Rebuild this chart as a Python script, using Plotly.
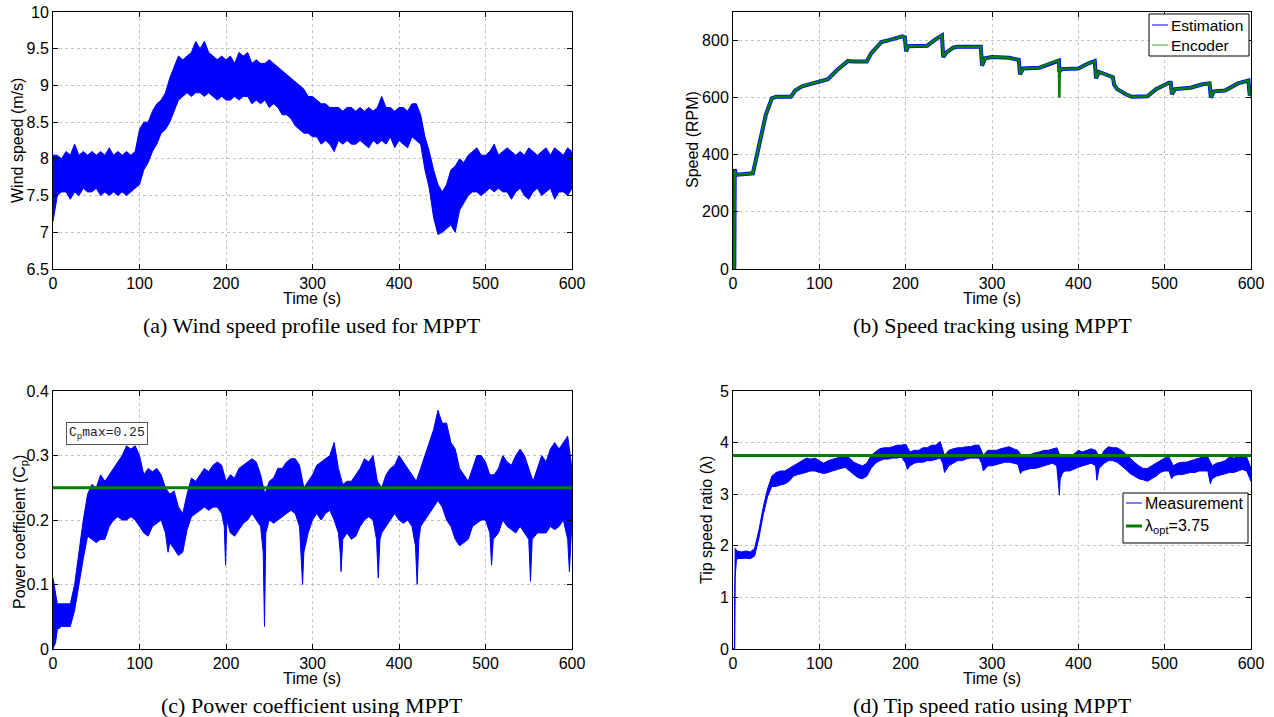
import plotly.graph_objects as go

# ---------------- data ----------------
# (a) wind speed envelope, sampled every 5 s
wind_t = list(range(0, 605, 5))
wind_hi = [8.05, 8.05, 8.0, 8.1, 8.05, 8.2, 8.05, 8.1, 8.05, 8.1, 8.05, 8.1, 8.05, 8.15, 8.05, 8.1, 8.05, 8.1, 8.05, 8.1,
           8.4, 8.5, 8.5, 8.65, 8.75, 8.8, 8.9, 9.1, 9.25, 9.4, 9.35, 9.4, 9.45, 9.6, 9.5, 9.6, 9.45, 9.4, 9.35, 9.4,
           9.35, 9.4, 9.3, 9.45, 9.4, 9.45, 9.3, 9.35, 9.3, 9.3, 9.35, 9.3, 9.25, 9.2, 9.15, 9.1, 9.05, 9.0, 8.95, 8.85,
           8.85, 8.8, 8.75, 8.75, 8.7, 8.7, 8.7, 8.65, 8.7, 8.7, 8.65, 8.7, 8.65, 8.7, 8.65, 8.7, 8.85, 8.7, 8.7, 8.65,
           8.7, 8.7, 8.65, 8.75, 8.75, 8.6, 8.3, 8.1, 7.85, 7.65, 7.55, 7.65, 7.85, 7.9, 8.0, 7.95, 8.05, 8.1, 8.15, 8.05,
           8.05, 8.1, 8.2, 8.05, 8.1, 8.15, 8.1, 8.05, 8.1, 8.05, 8.15, 8.1, 8.05, 8.1, 8.15, 8.05, 8.15, 8.1, 8.05, 8.15,
           8.1]
wind_lo = [7.15, 7.5, 7.55, 7.55, 7.45, 7.55, 7.5, 7.6, 7.55, 7.55, 7.6, 7.5, 7.55, 7.5, 7.55, 7.5, 7.55, 7.5, 7.55, 7.6,
           7.65, 7.85, 7.95, 8.1, 8.2, 8.35, 8.4, 8.5, 8.65, 8.8, 8.85, 8.9, 8.85, 8.9, 8.9, 8.85, 8.9, 8.85, 8.8, 8.85,
           8.8, 8.8, 8.85, 8.8, 8.85, 8.85, 8.75, 8.8, 8.75, 8.8, 8.7, 8.75, 8.7, 8.6, 8.6, 8.55, 8.45, 8.4, 8.35, 8.35,
           8.3, 8.3, 8.2, 8.25, 8.2, 8.1, 8.25, 8.2, 8.25, 8.2, 8.2, 8.25, 8.2, 8.15, 8.25, 8.2, 8.25, 8.2, 8.3, 8.15,
           8.25, 8.2, 8.15, 8.3, 8.25, 8.2, 7.85, 7.6, 7.2, 6.97, 7.0, 7.05, 7.1, 7.0, 7.3, 7.4, 7.5, 7.55, 7.55, 7.5,
           7.55, 7.6, 7.55, 7.6, 7.55, 7.55, 7.45, 7.55, 7.6, 7.5, 7.45, 7.55, 7.6, 7.5, 7.55, 7.6, 7.45, 7.55, 7.55, 7.5,
           7.6]

# (b) rotor speed (RPM)
speed_t = [0, 1.5, 2, 3, 5, 10, 23, 30, 38, 45, 50, 67, 72, 80, 95, 105, 110, 120, 133, 140, 155, 160, 172, 185, 196,
           199, 200.5, 203, 225, 235, 242, 243.5, 247, 255, 260, 287, 288.5, 292, 300, 320, 331, 332.5, 336, 355, 375,
           377.5, 378, 378.5, 380, 400, 410, 419, 420.5, 424, 440, 441.5, 445, 455, 462, 480, 490, 505, 507, 508.5,
           512, 530, 545, 552, 553.5, 557, 570, 585, 597, 598.5, 600]
speed_est = [0, 0, 350, 335, 330, 332, 335, 430, 540, 598, 603, 603, 625, 640, 652, 662, 665, 695, 728, 727, 727, 755,
             795, 805, 815, 812, 762, 780, 782, 805, 818, 742, 758, 775, 778, 778, 712, 738, 742, 740, 732, 682, 702,
             705, 730, 730, 690, 695, 700, 702, 718, 728, 668, 690, 672, 645, 630, 612, 603, 605, 630, 652, 652, 612,
             630, 635, 648, 650, 600, 622, 625, 650, 660, 608, 615]
speed_enc = [0, 0, 345, 333, 330, 332, 335, 430, 540, 598, 603, 603, 625, 640, 652, 662, 665, 695, 728, 727, 727, 755,
             795, 805, 815, 812, 762, 780, 782, 805, 818, 742, 758, 775, 778, 778, 712, 738, 742, 740, 732, 682, 702,
             705, 730, 730, 600, 695, 700, 702, 718, 728, 668, 690, 672, 645, 630, 612, 603, 605, 630, 652, 652, 612,
             630, 635, 648, 650, 600, 622, 625, 650, 660, 608, 615]

# (c) power coefficient envelope
cp_hi_t = list(range(0, 605, 5))
cp_hi = [0.11, 0.07, 0.07, 0.07, 0.07, 0.1, 0.15, 0.2, 0.24, 0.255, 0.25, 0.27, 0.26, 0.27, 0.28, 0.29, 0.30, 0.315,
         0.31, 0.315, 0.3, 0.27, 0.28, 0.275, 0.28, 0.27, 0.25, 0.24, 0.245, 0.22, 0.21, 0.24, 0.265, 0.26, 0.27, 0.28,
         0.275, 0.285, 0.29, 0.285, 0.26, 0.27, 0.265, 0.28, 0.285, 0.29, 0.295, 0.29, 0.27, 0.24, 0.26, 0.265, 0.28,
         0.28, 0.29, 0.295, 0.295, 0.285, 0.25, 0.26, 0.27, 0.285, 0.29, 0.295, 0.3, 0.32, 0.28, 0.255, 0.26, 0.26,
         0.27, 0.28, 0.295, 0.29, 0.3, 0.26, 0.25, 0.27, 0.28, 0.285, 0.3, 0.29, 0.28, 0.27, 0.26, 0.28, 0.3, 0.32,
         0.34, 0.37, 0.35, 0.35, 0.32, 0.31, 0.28, 0.27, 0.26, 0.28, 0.3, 0.3, 0.29, 0.27, 0.27, 0.28, 0.3, 0.29,
         0.285, 0.3, 0.31, 0.3, 0.28, 0.26, 0.28, 0.3, 0.29, 0.31, 0.32, 0.31, 0.32, 0.33, 0.28]
cp_lo_t = [0, 3, 5, 10, 15, 20, 25, 30, 35, 40, 45, 50, 55, 60, 65, 70, 75, 80, 85, 90, 95, 100, 105, 110, 115, 120,
           125, 130, 133, 135, 140, 145, 150, 155, 160, 165, 170, 175, 180, 185, 190, 195, 198, 199.5, 201, 205, 210,
           215, 220, 225, 230, 235, 240, 243, 244.5, 246, 250, 255, 260, 265, 270, 275, 280, 285, 287, 288.5, 290,
           295, 300, 305, 310, 315, 320, 325, 330, 332, 333, 335, 340, 345, 350, 355, 360, 365, 370, 374, 376, 378,
           380, 385, 390, 395, 400, 405, 410, 415, 419, 421, 423, 425, 430, 435, 440, 445, 450, 455, 460, 465, 470,
           475, 480, 485, 490, 495, 500, 505, 507, 509, 515, 520, 525, 530, 535, 540, 545, 550, 552, 554, 560, 565,
           570, 575, 580, 585, 590, 595, 597, 600]
cp_lo = [0.0, 0.01, 0.03, 0.035, 0.035, 0.035, 0.06, 0.1, 0.14, 0.175, 0.17, 0.165, 0.17, 0.17, 0.19, 0.2, 0.205, 0.2,
         0.2, 0.205, 0.2, 0.19, 0.18, 0.175, 0.19, 0.195, 0.2, 0.18, 0.15, 0.165, 0.155, 0.145, 0.15, 0.185, 0.205,
         0.21, 0.215, 0.22, 0.215, 0.22, 0.22, 0.21, 0.19, 0.13, 0.2, 0.18, 0.175, 0.185, 0.195, 0.2, 0.21, 0.2, 0.19,
         0.15, 0.035, 0.18, 0.2, 0.195, 0.2, 0.205, 0.21, 0.215, 0.21, 0.19, 0.15, 0.1, 0.15, 0.18, 0.2, 0.21, 0.2,
         0.21, 0.215, 0.2, 0.18, 0.15, 0.12, 0.17, 0.18, 0.17, 0.175, 0.19, 0.2, 0.205, 0.2, 0.17, 0.11, 0.17, 0.18,
         0.19, 0.2, 0.21, 0.2, 0.195, 0.2, 0.19, 0.16, 0.1, 0.17, 0.19, 0.2, 0.21, 0.22, 0.23, 0.22, 0.2, 0.19, 0.17,
         0.16, 0.165, 0.17, 0.19, 0.195, 0.2, 0.2, 0.18, 0.13, 0.17, 0.18, 0.2, 0.19, 0.185, 0.18, 0.19, 0.18, 0.17,
         0.105, 0.17, 0.18, 0.18, 0.18, 0.19, 0.185, 0.19, 0.2, 0.17, 0.12, 0.2]
cp_max = 0.25

# (d) tip speed ratio envelope
tsr_hi_t = [0, 1.5, 2.5] + list(range(5, 605, 5))
tsr_hi = [0, 0, 1.95, 1.9, 1.88, 1.9, 1.88, 1.95, 2.3, 2.75, 3.1, 3.35, 3.42, 3.45, 3.45, 3.5, 3.55, 3.6, 3.65, 3.7,
          3.68, 3.7, 3.65, 3.6, 3.65, 3.68, 3.7, 3.72, 3.75, 3.7, 3.62, 3.58, 3.55, 3.6, 3.75, 3.82, 3.88, 3.9, 3.9,
          3.92, 3.95, 3.95, 3.97, 3.82, 3.85, 3.85, 3.9, 3.9, 3.95, 3.95, 4.02, 3.75, 3.85, 3.88, 3.9, 3.9, 3.92,
          3.92, 3.95, 3.95, 3.75, 3.85, 3.85, 3.85, 3.88, 3.9, 3.92, 3.88, 3.85, 3.72, 3.75, 3.78, 3.8, 3.82, 3.85,
          3.85, 3.88, 3.9, 3.7, 3.75, 3.75, 3.78, 3.85, 3.82, 3.85, 3.88, 3.85, 3.7, 3.85, 3.92, 3.9, 3.9, 3.85, 3.78,
          3.7, 3.62, 3.55, 3.5, 3.5, 3.55, 3.6, 3.65, 3.7, 3.72, 3.55, 3.6, 3.62, 3.62, 3.65, 3.68, 3.7, 3.72, 3.72,
          3.55, 3.6, 3.62, 3.65, 3.72, 3.7, 3.72, 3.75, 3.72, 3.5]
tsr_lo_t = [0, 2, 2.5, 4, 5, 10, 15, 20, 25, 30, 35, 40, 45, 50, 55, 60, 65, 70, 75, 80, 85, 90, 95, 100, 105, 110,
            115, 120, 125, 130, 135, 140, 145, 150, 155, 160, 165, 170, 175, 180, 185, 190, 195, 200, 202, 205, 210,
            215, 220, 225, 230, 235, 240, 243, 245, 250, 255, 260, 265, 270, 275, 280, 285, 288, 290, 295, 300, 305,
            310, 315, 320, 325, 330, 333, 335, 340, 345, 350, 355, 360, 365, 370, 375, 377, 378, 379, 382, 385, 390,
            395, 400, 405, 410, 415, 420, 421.5, 424, 430, 435, 440, 445, 450, 455, 460, 465, 470, 475, 480, 485, 490,
            495, 500, 505, 508, 510, 515, 520, 525, 530, 535, 540, 545, 550, 553, 555, 560, 565, 570, 575, 580, 585,
            590, 595, 600]
tsr_lo = [0, 0, 1.4, 1.72, 1.75, 1.75, 1.76, 1.75, 1.8, 2.15, 2.6, 2.95, 3.15, 3.15, 3.18, 3.2, 3.25, 3.35, 3.38, 3.4,
          3.42, 3.45, 3.45, 3.42, 3.4, 3.42, 3.45, 3.48, 3.5, 3.52, 3.45, 3.38, 3.32, 3.3, 3.35, 3.5, 3.6, 3.65, 3.68,
          3.68, 3.7, 3.7, 3.72, 3.6, 3.48, 3.55, 3.6, 3.62, 3.62, 3.65, 3.65, 3.68, 3.7, 3.6, 3.42, 3.55, 3.6, 3.65,
          3.65, 3.68, 3.7, 3.7, 3.7, 3.6, 3.45, 3.55, 3.55, 3.58, 3.6, 3.62, 3.62, 3.6, 3.58, 3.4, 3.45, 3.48, 3.5,
          3.5, 3.52, 3.55, 3.58, 3.6, 3.55, 3.2, 2.98, 3.3, 3.42, 3.45, 3.45, 3.48, 3.52, 3.55, 3.58, 3.6, 3.55, 3.27,
          3.5, 3.6, 3.65, 3.65, 3.62, 3.55, 3.48, 3.4, 3.35, 3.3, 3.28, 3.25, 3.3, 3.35, 3.42, 3.45, 3.45, 3.3, 3.35,
          3.38, 3.38, 3.4, 3.42, 3.42, 3.45, 3.45, 3.45, 3.2, 3.3, 3.35, 3.38, 3.4, 3.42, 3.42, 3.45, 3.48, 3.45, 3.25]
lambda_opt = 3.75

x_ticks = [0, 100, 200, 300, 400, 500, 600]
x_title = "Time (s)"
y_titles = ["Wind speed (m/s)", "Speed (RPM)", "Power coefficient (C<sub>p</sub>)", "Tip speed ratio (λ)"]
captions = ["(a) Wind speed profile used for MPPT", "(b) Speed tracking using MPPT",
            "(c) Power coefficient using MPPT", "(d) Tip speed ratio using MPPT"]

# ---------------- styling ----------------
W, H = 1274, 717
BLUE = "#0000ff"
GREEN = "#008000"
SANS = "Liberation Sans, Arial, sans-serif"
SERIF = "Liberation Serif, Times New Roman, serif"
MONO = "Liberation Mono, Courier New, monospace"


def px_x(p):
    return p / W


def px_y(p):
    return 1 - p / H


LEFT = [px_x(53), px_x(572)]
RIGHT = [px_x(733), px_x(1251)]
TOP = [px_y(269), px_y(12)]
BOT = [px_y(649), px_y(391)]

fig = go.Figure()


def band(t_hi, hi, t_lo, lo, xa, ya):
    fig.add_trace(go.Scatter(
        x=list(t_hi) + list(t_lo)[::-1], y=list(hi) + list(lo)[::-1],
        fill="toself", fillcolor=BLUE, mode="lines",
        line=dict(color=BLUE, width=1), showlegend=False, hoverinfo="skip",
        xaxis=xa, yaxis=ya))


# (a)
band(wind_t, wind_hi, wind_t, wind_lo, "x", "y")
# (b)
fig.add_trace(go.Scatter(x=speed_t, y=speed_est, mode="lines", line=dict(color=BLUE, width=4),
                         name="Estimation", showlegend=False, xaxis="x2", yaxis="y2"))
fig.add_trace(go.Scatter(x=speed_t, y=speed_enc, mode="lines", line=dict(color=GREEN, width=2.5),
                         name="Encoder", showlegend=False, xaxis="x2", yaxis="y2"))
# (c)
band(cp_hi_t, cp_hi, cp_lo_t, cp_lo, "x3", "y3")
fig.add_trace(go.Scatter(x=[0, 600], y=[cp_max, cp_max], mode="lines", line=dict(color=GREEN, width=3),
                         showlegend=False, xaxis="x3", yaxis="y3"))
# (d)
band(tsr_hi_t, tsr_hi, tsr_lo_t, tsr_lo, "x4", "y4")
fig.add_trace(go.Scatter(x=[0, 600], y=[lambda_opt, lambda_opt], mode="lines", line=dict(color=GREEN, width=3),
                         showlegend=False, xaxis="x4", yaxis="y4"))


def xax(domain, anchor):
    return dict(domain=domain, anchor=anchor, range=[0, 600], tickvals=x_ticks, automargin=False,
                ticks="inside", ticklen=5, tickcolor="black", mirror="ticks",
                showline=True, linecolor="black", linewidth=1,
                showgrid=True, gridcolor="#c4c4c4", griddash="dot", gridwidth=1, zeroline=False,
                tickfont=dict(family=SANS, size=16, color="black"))


def yax(domain, anchor, rng, tickvals):
    return dict(domain=domain, anchor=anchor, range=rng, tickvals=tickvals, automargin=False,
                ticks="inside", ticklen=5, tickcolor="black", mirror="ticks",
                showline=True, linecolor="black", linewidth=1,
                showgrid=True, gridcolor="#c4c4c4", griddash="dot", gridwidth=1, zeroline=False,
                tickfont=dict(family=SANS, size=16, color="black"))


fig.update_layout(
    width=W, height=H, margin=dict(l=0, r=0, t=0, b=0, autoexpand=False),
    paper_bgcolor="white", plot_bgcolor="white", showlegend=False,
    xaxis=xax(LEFT, "y"),
    yaxis=yax(TOP, "x", [6.5, 10], [6.5, 7, 7.5, 8, 8.5, 9, 9.5, 10]),
    xaxis2=xax(RIGHT, "y2"),
    yaxis2=yax(TOP, "x2", [0, 900], [0, 200, 400, 600, 800]),
    xaxis3=xax(LEFT, "y3"),
    yaxis3=yax(BOT, "x3", [0, 0.4], [0, 0.1, 0.2, 0.3, 0.4]),
    xaxis4=xax(RIGHT, "y4"),
    yaxis4=yax(BOT, "x4", [0, 5], [0, 1, 2, 3, 4, 5]),
)

ann = []
label_font = dict(family=SANS, size=16, color="black")
# axis titles
for cx, cy in [(312, 299), (992, 299), (312, 678), (992, 678)]:
    ann.append(dict(x=px_x(cx), y=px_y(cy), xref="paper", yref="paper", text=x_title, showarrow=False,
                    xanchor="center", yanchor="middle", font=label_font))
for (cx, cy), txt in zip([(17, 141), (692, 140), (20, 532), (706, 520)], y_titles):
    ann.append(dict(x=px_x(cx), y=px_y(cy), xref="paper", yref="paper", text=txt, showarrow=False,
                    textangle=-90, xanchor="center", yanchor="middle", font=label_font))
# captions
for (cx, cy), txt in zip([(312, 325), (992, 325), (312, 705), (992, 705)], captions):
    ann.append(dict(x=px_x(cx), y=px_y(cy), xref="paper", yref="paper", text=txt, showarrow=False,
                    xanchor="center", yanchor="middle", font=dict(family=SERIF, size=22, color="black")))
# Cp max text box
ann.append(dict(x=px_x(66), y=px_y(422), xref="paper", yref="paper", text="C<sub>p</sub>max=0.25",
                showarrow=False, xanchor="left", yanchor="top", align="left",
                font=dict(family=MONO, size=13, color="#222"), bgcolor="white",
                bordercolor="#555", borderwidth=1, borderpad=2))

shapes = []


def legend_box(x0, y0, x1, y1, items, fs):
    shapes.append(dict(type="rect", xref="paper", yref="paper", x0=px_x(x0), x1=px_x(x1), y0=px_y(y1), y1=px_y(y0),
                       line=dict(color="black", width=1), fillcolor="white", layer="above"))
    for yy, color, lw, label in items:
        shapes.append(dict(type="line", xref="paper", yref="paper", x0=px_x(x0 + 3), x1=px_x(x0 + 19),
                           y0=px_y(yy), y1=px_y(yy), line=dict(color=color, width=lw), layer="above"))
        ann.append(dict(x=px_x(x0 + 20), y=px_y(yy), xref="paper", yref="paper", text=label, showarrow=False,
                        xanchor="left", yanchor="middle", font=dict(family=SANS, size=fs, color="black")))


legend_box(1149, 14, 1249, 56, [(25, BLUE, 1, "Estimation"), (45, "#3aa03a", 1, "Encoder")], 15.5)
legend_box(1123, 493, 1248, 543, [(503, BLUE, 1, "Measurement"), (526, GREEN, 3, "λ<sub>opt</sub>=3.75")], 16)

fig.update_layout(annotations=ann, shapes=shapes)
fig.write_html("out.html", config={"displayModeBar": False},
               post_script="document.body.style.margin='0px';document.body.style.overflow='hidden';")
